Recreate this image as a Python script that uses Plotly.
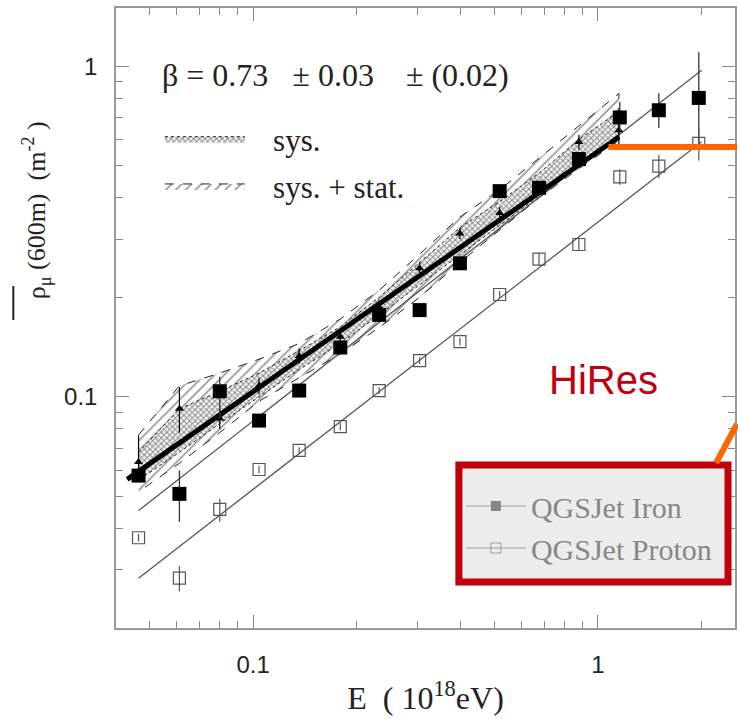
import math
import plotly.graph_objects as go

# ---------------- data ----------------
energy = [0.0465, 0.0611, 0.0800, 0.104, 0.136, 0.179, 0.232, 0.304, 0.398, 0.519, 0.675, 0.881, 1.158, 1.503, 1.963]

iron_y = [0.0578, 0.0509, 0.104, 0.0848, 0.1045, 0.141, 0.177, 0.183, 0.2535, 0.419, 0.429, 0.524, 0.700, 0.736, 0.802]
iron_err_plus = [0.002, 0.009, 0.011, 0.003, 0.003, 0.004, 0.005, 0.005, 0.006, 0.010, 0.012, 0.015, 0.080, 0.093, 0.300]
iron_err_minus = [0.002, 0.009, 0.018, 0.003, 0.003, 0.004, 0.005, 0.005, 0.006, 0.010, 0.012, 0.015, 0.060, 0.086, 0.220]

proton_y = [0.0375, 0.0283, 0.0457, 0.0603, 0.0689, 0.0813, 0.1045, 0.1288, 0.147, 0.204, 0.261, 0.289, 0.463, 0.499, 0.584]
proton_err_plus = [0.001, 0.0025, 0.0035, 0.0015, 0.0015, 0.002, 0.0025, 0.003, 0.004, 0.005, 0.012, 0.012, 0.025, 0.040, 0.060]
proton_err_minus = [0.001, 0.0025, 0.0038, 0.0015, 0.0015, 0.002, 0.0025, 0.003, 0.004, 0.005, 0.012, 0.012, 0.025, 0.040, 0.065]

fit_x = [0.0465, 2.0]
iron_fit_y = [0.0453, 0.972]
proton_fit_y = [0.0283, 0.591]

hires_x = [0.0465, 0.0611, 0.080, 0.104, 0.136, 0.179, 0.232, 0.304, 0.398, 0.519, 0.675, 0.881, 1.151]
hires_y = [0.0635, 0.092, 0.086, 0.108, 0.133, 0.152, 0.187, 0.245, 0.312, 0.360, 0.427, 0.590, 0.640]
hires_err_plus = [0.013, 0.015, 0.006, 0.006, 0.007, 0.008, 0.009, 0.010, 0.012, 0.015, 0.020, 0.030, 0.070]
hires_err_minus = [0.006, 0.014, 0.006, 0.006, 0.007, 0.008, 0.009, 0.010, 0.012, 0.015, 0.020, 0.030, 0.070]

stat_upper = [0.0767, 0.108, 0.118, 0.130, 0.145, 0.172, 0.210, 0.270, 0.350, 0.423, 0.527, 0.660, 0.827]
stat_lower = [0.0516, 0.063, 0.078, 0.097, 0.114, 0.135, 0.162, 0.200, 0.255, 0.320, 0.400, 0.490, 0.595]
sys_upper = [0.068, 0.092, 0.104, 0.118, 0.138, 0.163, 0.200, 0.255, 0.325, 0.390, 0.475, 0.600, 0.730]
sys_lower = [0.056, 0.068, 0.083, 0.100, 0.121, 0.145, 0.177, 0.218, 0.270, 0.330, 0.405, 0.495, 0.600]

hires_fit_x = [0.0431, 1.151]
hires_fit_y = [0.0563, 0.611]

x_major = [0.1, 1]
x_major_text = ["0.1", "1"]
x_minor = [0.04, 0.05, 0.06, 0.07, 0.08, 0.09, 0.2, 0.3, 0.4, 0.5, 0.6, 0.7, 0.8, 0.9, 2]
y_major = [0.1, 1]
y_major_text = ["0.1", "1"]
y_minor = [0.02, 0.03, 0.04, 0.05, 0.06, 0.07, 0.08, 0.09, 0.2, 0.3, 0.4, 0.5, 0.6, 0.7, 0.8, 0.9]

# ---------------- figure ----------------
W, H = 738, 723
ML, MR, MT, MB = 116, 1, 8, 95
PW, PH = W - ML - MR, H - MT - MB
NB = "\u00a0"


def px(x):
    return (x - ML) / PW


def py(y):
    return (H - MB - y) / PH


SERIF = "Liberation Serif"
SANS = "Liberation Sans"

fig = go.Figure()

# sys + stat band
fig.add_trace(go.Scatter(
    x=hires_x + hires_x[::-1], y=stat_upper + stat_lower[::-1],
    mode="lines", fill="toself", name=NB * 3 + "sys. + stat.",
    line=dict(color="#222", width=1, dash="dash"),
    fillcolor="white",
    fillpattern=dict(shape="/", size=7, solidity=0.25, fgcolor="#333", bgcolor="white"),
    legend="legend2", legendgroup="b", legendrank=2, hoverinfo="skip"))

# sys band
fig.add_trace(go.Scatter(
    x=hires_x + hires_x[::-1], y=sys_upper + sys_lower[::-1],
    mode="lines", fill="toself", name=NB * 3 + "sys.",
    line=dict(color="#222", width=1, dash="dot"),
    fillcolor="white",
    fillpattern=dict(shape="x", size=4, solidity=0.45, fgcolor="#222", bgcolor="#f4f4f4"),
    legend="legend2", legendgroup="a", legendrank=1, hoverinfo="skip"))

# fit lines
fig.add_trace(go.Scatter(x=fit_x, y=iron_fit_y, mode="lines",
                         line=dict(color="#555", width=1.3), showlegend=False))
fig.add_trace(go.Scatter(x=fit_x, y=proton_fit_y, mode="lines",
                         line=dict(color="#555", width=1.3), showlegend=False))
fig.add_trace(go.Scatter(x=hires_fit_x, y=hires_fit_y, mode="lines",
                         line=dict(color="black", width=5), showlegend=False))

# HiRes points
fig.add_trace(go.Scatter(
    x=hires_x, y=hires_y, mode="markers",
    marker=dict(symbol="triangle-up", size=8, color="black"),
    error_y=dict(type="data", array=hires_err_plus, arrayminus=hires_err_minus,
                 color="black", thickness=1.2, width=0),
    showlegend=False))

# iron
fig.add_trace(go.Scatter(
    x=energy, y=iron_y, mode="markers",
    marker=dict(symbol="square", size=14, color="black"),
    error_y=dict(type="data", array=iron_err_plus, arrayminus=iron_err_minus,
                 color="#333", thickness=1.3, width=0),
    showlegend=False))

# proton
fig.add_trace(go.Scatter(
    x=energy, y=proton_y, mode="markers",
    marker=dict(symbol="square-open", size=12, color="#555", line=dict(width=1.2)),
    error_y=dict(type="data", array=proton_err_plus, arrayminus=proton_err_minus,
                 color="#555", thickness=1.2, width=0),
    showlegend=False))

# legend-only entries (faded look of the pasted legend)
fig.add_trace(go.Scatter(
    x=energy, y=iron_y, mode="lines+markers", name="QGSJet Iron",
    line=dict(color="#555", width=1.2),
    marker=dict(symbol="square", size=10, color="#222"),
    visible="legendonly", legend="legend", legendgroup="i"))
fig.add_trace(go.Scatter(
    x=energy, y=proton_y, mode="lines+markers", name="QGSJet Proton",
    line=dict(color="#555", width=1.2),
    marker=dict(symbol="square-open", size=10, color="#555"),
    visible="legendonly", legend="legend", legendgroup="p"))

axis_common = dict(
    type="log", showgrid=False, zeroline=False,
    ticks="inside", ticklen=13, tickwidth=1.2, tickcolor="#888",
    showline=True, linecolor="#999", linewidth=1.5, mirror="allticks",
    tickfont=dict(family=SANS, size=24, color="#222"),
)

fig.update_xaxes(**axis_common,
                 range=[math.log10(0.04), math.log10(2.5)],
                 tickmode="array", tickvals=x_major, ticktext=x_major_text,
                 ticklabelstandoff=14,
                 title=dict(text="E" + NB * 2 + "( 10<sup>18</sup>eV)", standoff=10,
                            font=dict(family=SERIF, size=32, color="#222")),
                 minor=dict(tickmode="array", tickvals=x_minor, ticks="inside",
                            ticklen=7, tickcolor="#888", tickwidth=1.1))
fig.update_yaxes(**axis_common,
                 range=[math.log10(0.02), math.log10(1.5)],
                 tickmode="array", tickvals=y_major, ticktext=y_major_text,
                 ticklabelstandoff=12,
                 minor=dict(tickmode="array", tickvals=y_minor, ticks="inside",
                            ticklen=7, tickcolor="#888", tickwidth=1.1))

annotations = [
    dict(text="HiRes", xref="paper", yref="paper", x=px(605), y=py(380),
         xanchor="center", yanchor="middle",
         showarrow=False, font=dict(family=SANS, size=40, color="#c0000f")),
    dict(text="β = 0.73   ± 0.03    ± (0.02)", xref="paper", yref="paper",
         x=px(160), y=py(75), xanchor="left", yanchor="middle", showarrow=False,
         font=dict(family=SERIF, size=32, color="#222")),
    dict(text="ρ<sub>μ</sub> (600m)  (m<sup>-2</sup> )", xref="paper", yref="paper",
         x=px(36), y=py(210), xanchor="center", yanchor="middle", textangle=-90,
         showarrow=False, font=dict(family=SERIF, size=26, color="#222")),
]

shapes = [
    # overline of rho
    dict(type="line", xref="paper", yref="paper", x0=px(13), x1=px(13),
         y0=py(286), y1=py(320), line=dict(color="#222", width=2)),
    # red box (legend frame)
    dict(type="rect", xref="paper", yref="paper", x0=px(460), x1=px(730),
         y0=py(582), y1=py(465), fillcolor="#ececec",
         line=dict(color="#c0000b", width=7), layer="above"),
    # orange pointer lines
    dict(type="line", xref="paper", yref="paper", x0=px(610), x1=px(739),
         y0=py(147), y1=py(147), line=dict(color="#ff6600", width=6), layer="above"),
    dict(type="line", xref="paper", yref="paper", x0=px(718), x1=px(739),
         y0=py(463), y1=py(424), line=dict(color="#ff6600", width=6), layer="above"),
]

fig.update_layout(
    width=W, height=H,
    margin=dict(l=ML, r=MR, t=MT, b=MB),
    paper_bgcolor="white", plot_bgcolor="white",
    annotations=annotations, shapes=shapes,
    legend=dict(x=px(462), y=py(480), xanchor="left", yanchor="top",
                bgcolor="rgba(0,0,0,0)", borderwidth=0,
                font=dict(family=SERIF, size=30, color="#222"),
                itemwidth=60, tracegroupgap=0, itemclick=False, itemdoubleclick=False),
    legend2=dict(x=px(160), y=py(112), xanchor="left", yanchor="top",
                 bgcolor="rgba(0,0,0,0)", borderwidth=0,
                 font=dict(family=SERIF, size=31, color="#222"),
                 itemwidth=80, tracegroupgap=4, traceorder="grouped"),
    showlegend=True,
)

fig.write_html("out.html")
